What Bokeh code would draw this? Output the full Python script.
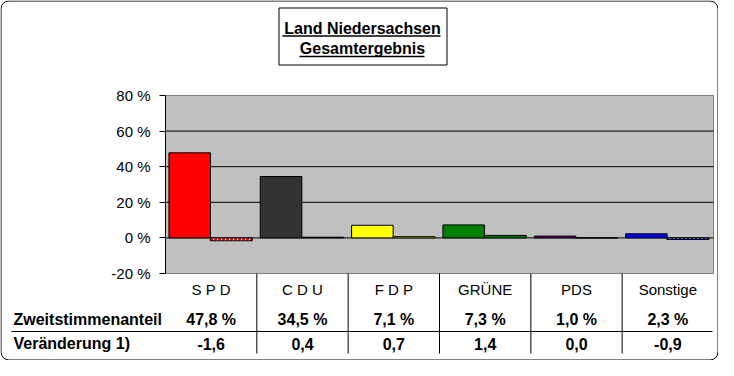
from bokeh.plotting import figure
from bokeh.models import (Range1d, FixedTicker, ColumnDataSource, CustomJSTickFormatter)
from bokeh.core.properties import value
from bokeh.embed import file_html
from bokeh.resources import INLINE

# ---- data ----
parties = ["S P D", "C D U", "F D P", "GRÜNE", "PDS", "Sonstige"]
share = [47.8, 34.5, 7.1, 7.3, 1.0, 2.3]
change = [-1.6, 0.4, 0.7, 1.4, 0.0, -0.9]
party_colors = ["#FF0000", "#333333", "#FFFF00", "#008000", "#800080", "#0000FF"]
y_ticks = [-20, 0, 20, 40, 60, 80]
title_lines = ["Land Niedersachsen", "Gesamtergebnis"]
row_titles = ["Zweitstimmenanteil", "Veränderung 1)"]

share_text = [f"{v:.1f}".replace(".", ",") + " %" for v in share]
change_text = [f"{v:.1f}".replace(".", ",") for v in change]

# ---- geometry ----
W, H = 718, 360
S = 6                      # shift of reference layout into the figure
PL, PR, PT, PB = 171, 719, 101, 279   # plot area in reference pixels
N = len(parties)
YMIN, YMAX = y_ticks[0], y_ticks[-1]
FONT = value("Liberation Sans")


def dx(px):  # reference px -> data x
    return (px - PL) / (PR - PL) * N


def dy(py):  # reference px -> data y
    return YMAX - (py - PT) / (PB - PT) * (YMAX - YMIN)


p = figure(width=W, height=H,
           x_range=Range1d(dx(S), dx(W + S)), y_range=Range1d(dy(H + S), dy(S)),
           min_border=0, output_backend="svg", toolbar_location=None)
p.background_fill_color = "white"
p.border_fill_color = "white"
p.outline_line_color = None
p.xaxis.visible = False
p.grid.visible = False

# ---- outer rounded frame ----
p.quad(left=dx(S + 0.5), right=dx(W + S - 0.5), top=dy(S + 0.5), bottom=dy(H + S - 0.5),
       fill_color="white", line_color="black", line_width=1, border_radius=8)

# ---- plot area ----
p.quad(left=0, right=N, bottom=YMIN, top=YMAX, fill_color="#C0C0C0",
       line_color="#808080", line_width=1)
grid_y = [t for t in y_ticks if YMIN < t < YMAX]
p.segment(x0=[0] * len(grid_y), x1=[N] * len(grid_y), y0=grid_y, y1=grid_y,
          line_color="black", line_width=1)

ax = p.yaxis[0]
ax.fixed_location = 0
ax.bounds = (YMIN, YMAX)
ax.ticker = FixedTicker(ticks=y_ticks)
ax.formatter = CustomJSTickFormatter(code="return tick + ' %'")
ax.major_label_text_font = "Liberation Sans"
ax.major_label_text_font_size = "15px"
ax.major_label_text_color = "black"
ax.major_tick_out = 6
ax.major_tick_in = 0
ax.minor_tick_out = 0
ax.minor_tick_in = 0
ax.major_label_standoff = 9
ax.axis_line_color = "black"
ax.major_tick_line_color = "black"

# ---- bars ----
idx = list(range(N))
share_src = ColumnDataSource(dict(x=[i + 0.265 for i in idx], top=share, color=party_colors))
p.vbar(x="x", width=0.455, top="top", bottom=0, source=share_src,
       fill_color="color", line_color="black", line_width=1)

chg_fill = ["white" if v < 0 else c for v, c in zip(change, party_colors)]
chg_hatch = ["/" if v < 0 else " " for v in change]
chg_src = ColumnDataSource(dict(x=[i + 0.72 for i in idx], top=change, fill=chg_fill,
                                hatch=chg_hatch, hcolor=party_colors))
p.vbar(x="x", width=0.46, top="top", bottom=0, source=chg_src,
       fill_color="fill", line_color="black", line_width=1,
       hatch_pattern="hatch", hatch_color="hcolor", hatch_scale=8, hatch_weight=2.5)

# ---- data table below chart ----
cx = [i + 0.5 for i in idx]
p.text(x=cx, y=[dy(294.7)] * N, text=parties, text_align="center", text_baseline="middle",
       text_font=FONT, text_font_size="15px", text_color="black")
p.text(x=cx, y=[dy(325.2)] * N, text=share_text, text_align="center", text_baseline="middle",
       text_font=FONT, text_font_size="16px", text_font_style="bold", text_color="black")
p.text(x=cx, y=[dy(349.2)] * N, text=change_text, text_align="center", text_baseline="middle",
       text_font=FONT, text_font_size="16px", text_font_style="bold", text_color="black")
p.text(x=[dx(19)] * 2, y=[dy(325.2), dy(349.2)], text=row_titles, text_align="left",
       text_baseline="middle", text_font=FONT, text_font_size="16px",
       text_font_style="bold", text_color="black")

seps = list(range(1, N))
p.segment(x0=seps, x1=seps, y0=[YMIN] * len(seps), y1=[dy(359)] * len(seps),
          line_color="black", line_width=1)
p.segment(x0=[dx(17)], x1=[dx(718)], y0=[dy(337)], y1=[dy(337)],
          line_color="black", line_width=1)

# ---- title box ----
p.quad(left=dx(284.5), right=dx(452.5), top=dy(13.5), bottom=dy(70.5),
       fill_color="white", line_color="black", line_width=1)
p.text(x=[dx(368)] * 2, y=[dy(33.8), dy(53.8)], text=title_lines, text_align="center",
       text_baseline="middle", text_font=FONT, text_font_size="16px",
       text_font_style="bold", text_color="black")
p.segment(x0=[dx(288), dx(305)], x1=[dx(446), dx(430)], y0=[dy(41.5), dy(62)],
          y1=[dy(41.5), dy(62)], line_color="black", line_width=1.6)

open("out.html", "w").write(file_html(p, INLINE))
